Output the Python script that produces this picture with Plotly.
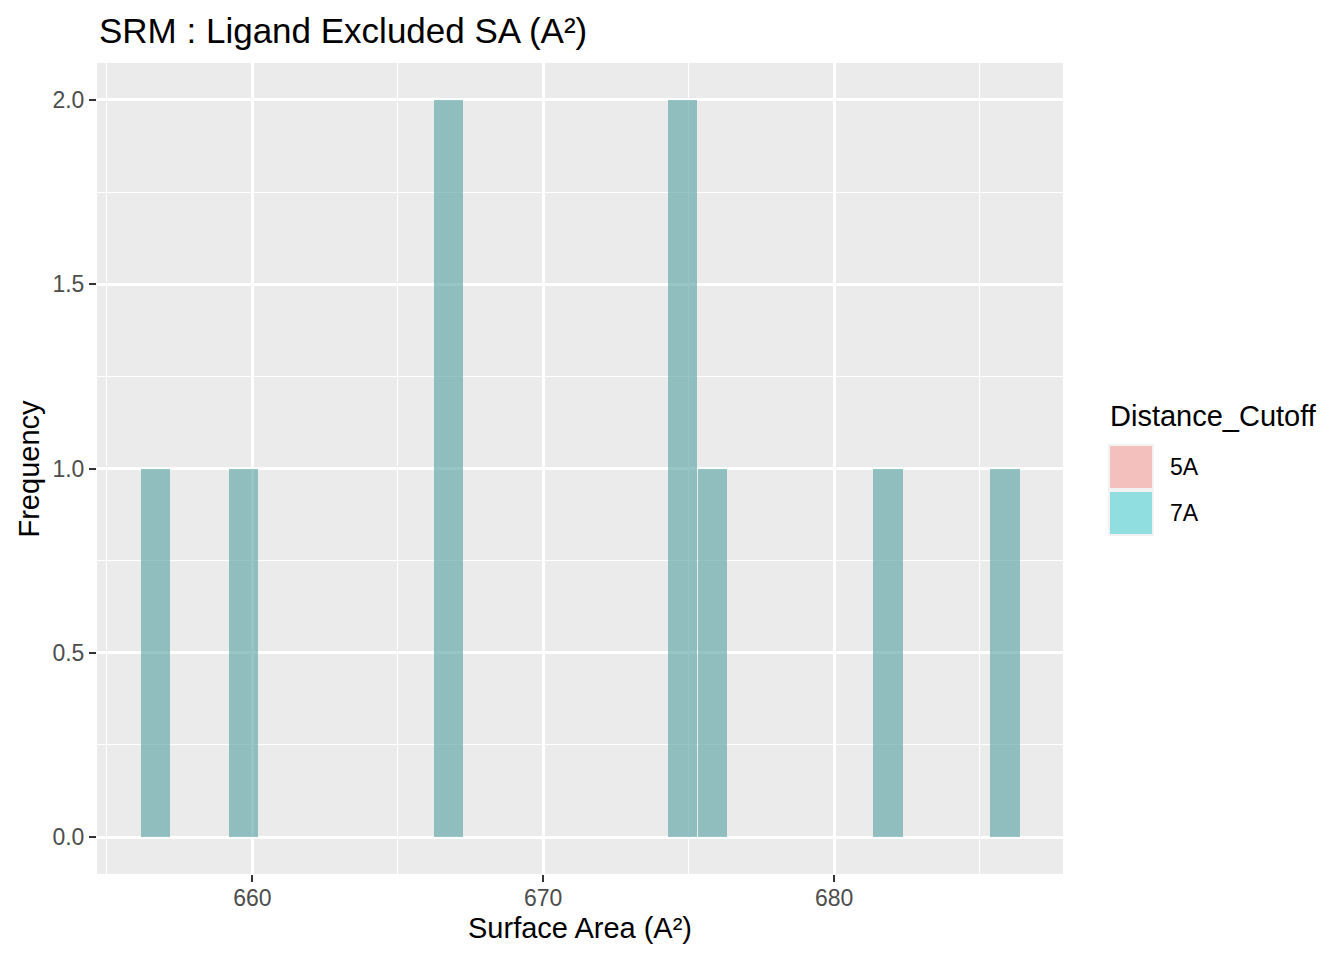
import plotly.graph_objects as go

# ---- data ----
bin_centers = [656.67, 659.69, 666.74, 674.80, 675.81, 681.85, 685.88]
counts_5A = [1, 1, 2, 2, 1, 1, 1]
counts_7A = [1, 1, 2, 2, 1, 1, 1]
bin_width = 1.0073
groups = ["5A", "7A"]
group_counts = {"5A": counts_5A, "7A": counts_7A}
group_colors = {"5A": "248,118,109", "7A": "0,191,196"}
legend_key_fill = {"5A": "#F4C0BD", "7A": "#91DEE0"}
x_ticks = [660, 670, 680]
x_minor = [655, 665, 675, 685]
y_ticks = [0.0, 0.5, 1.0, 1.5, 2.0]
y_minor = [0.25, 0.75, 1.25, 1.75]

title_text = "SRM : Ligand Excluded SA (A²)"
x_title = "Surface Area (A²)"
y_title = "Frequency"
legend_title = "Distance_Cutoff"

OFF = 8  # page body margin
W, H = 1344 - OFF, 960 - OFF
L, R, T, B = 97, 1063, 63, 874  # panel edges in page pixels
FONT = "Liberation Sans, Arial, Helvetica, sans-serif"


def px_x(p):
    return (p - L) / (R - L)


def px_y(p):
    return (B - p) / (B - T)


fig = go.Figure()
for g in groups:
    fig.add_trace(go.Bar(
        x=bin_centers, y=group_counts[g], width=bin_width, name=g,
        marker=dict(color="rgba(%s,0.4)" % group_colors[g], line=dict(width=0)),
        showlegend=False,
    ))

fig.update_layout(
    width=W, height=H, autosize=False,
    margin=dict(l=L - OFF, r=W - (R - OFF), t=T - OFF, b=H - (B - OFF), pad=0),
    paper_bgcolor="white", plot_bgcolor="#EBEBEB",
    barmode="overlay", bargap=0,
    font=dict(family=FONT, color="black"),
)

fig.update_xaxes(
    range=[654.66, 687.87], tickvals=x_ticks, ticktext=[str(v) for v in x_ticks],
    showgrid=True, gridcolor="white", gridwidth=2.6, zeroline=False,
    ticks="outside", ticklen=7, tickwidth=2, tickcolor="#333333",
    ticklabelstandoff=-4,
    tickfont=dict(size=23, color="#4D4D4D", family=FONT),
    minor=dict(tickvals=x_minor, showgrid=True, gridcolor="white", gridwidth=1.3, ticks=""),
    showline=False,
)
fig.update_yaxes(
    range=[-0.1, 2.1], tickvals=y_ticks, ticktext=["%.1f" % v for v in y_ticks],
    showgrid=True, gridcolor="white", gridwidth=2.6, zeroline=False,
    ticks="outside", ticklen=7, tickwidth=2, tickcolor="#333333",
    tickfont=dict(size=23, color="#4D4D4D", family=FONT),
    minor=dict(tickvals=y_minor, showgrid=True, gridcolor="white", gridwidth=1.3, ticks=""),
    showline=False,
)

ann = []
ann.append(dict(text=title_text, x=0, y=px_y(30), xref="paper", yref="paper",
                xanchor="left", yanchor="middle", showarrow=False,
                font=dict(size=35, color="black", family=FONT)))
ann.append(dict(text=x_title, x=0.5, y=px_y(928), xref="paper", yref="paper",
                xanchor="center", yanchor="middle", showarrow=False,
                font=dict(size=29, color="black", family=FONT)))
ann.append(dict(text=y_title, x=px_x(28), y=0.5, xref="paper", yref="paper",
                xanchor="center", yanchor="middle", showarrow=False, textangle=-90,
                font=dict(size=29, color="black", family=FONT)))
ann.append(dict(text=legend_title, x=px_x(1108), y=px_y(416), xref="paper", yref="paper",
                xanchor="left", yanchor="middle", showarrow=False,
                font=dict(size=29, color="black", family=FONT)))

shapes = []
key_top = 444
key_size = 46
for i, g in enumerate(groups):
    y0 = key_top + i * key_size
    shapes.append(dict(type="rect", xref="paper", yref="paper",
                       x0=px_x(1108), x1=px_x(1108 + key_size), y0=px_y(y0), y1=px_y(y0 + key_size),
                       fillcolor="#F2F2F2", line=dict(width=0), layer="above"))
    shapes.append(dict(type="rect", xref="paper", yref="paper",
                       x0=px_x(1110), x1=px_x(1108 + key_size - 2), y0=px_y(y0 + 2), y1=px_y(y0 + key_size - 2),
                       fillcolor=legend_key_fill[g], line=dict(width=0), layer="above"))
    ann.append(dict(text=g, x=px_x(1168), y=px_y(y0 + key_size / 2), xref="paper", yref="paper",
                    xanchor="left", yanchor="middle", showarrow=False,
                    font=dict(size=23, color="black", family=FONT)))

fig.update_layout(annotations=ann, shapes=shapes)

fig.write_html("out.html")
